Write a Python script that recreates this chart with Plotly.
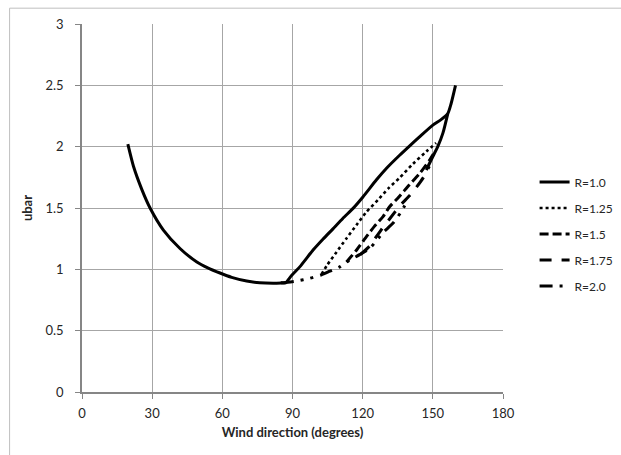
import plotly.graph_objects as go

# ---- data ----
x_ticks = [0, 30, 60, 90, 120, 150, 180]
y_ticks = [0, 0.5, 1, 1.5, 2, 2.5, 3]
y_tick_labels = ["0", "0.5", "1", "1.5", "2", "2.5", "3"]

series_names = ["R=1.0", "R=1.25", "R=1.5", "R=1.75", "R=2.0"]

# R=1.0: left branch, upper branch, then (after a break) the steep right branch
r10_x = [19.6, 22, 25.6, 29.1, 34.8, 41.9, 49.1, 54, 59, 64, 70.4, 76, 81.7, 85.3, 87,
         89.6, 93.1, 98.8, 103, 107.3, 111.5, 115.9, 120.1, 125.9, 130.5, 135.8, 140,
         144.3, 150, 153.5, 156.4, 157.8, 159.7,
         None,
         147.2, 150, 152.1, 154.3, 156.4]
r10_y = [2.02, 1.84, 1.65, 1.50, 1.32, 1.17, 1.06, 1.01, 0.97, 0.935, 0.905, 0.89, 0.886, 0.888, 0.89,
         0.95, 1.02, 1.157, 1.245, 1.33, 1.415, 1.497, 1.59, 1.73, 1.83, 1.93, 2.005,
         2.08, 2.176, 2.22, 2.27, 2.35, 2.50,
         None,
         1.81, 1.92, 2.00, 2.11, 2.27]

r125_x = [102.4, 105, 108.8, 113, 117.3, 121.5, 126.5, 131, 136, 141.5, 147.2, 151.4]
r125_y = [0.96, 1.04, 1.14, 1.25, 1.36, 1.465, 1.565, 1.66, 1.75, 1.86, 1.96, 2.03]

r15_x = [113.1, 117.5, 121.6, 125, 128.7, 131.5, 135, 140, 144.3, 148.6, 150.5]
r15_y = [1.06, 1.16, 1.266, 1.35, 1.43, 1.51, 1.58, 1.69, 1.78, 1.89, 1.95]

r175_x = [119, 123, 126, 129, 131.5, 136, 140, 143, 146, 148.5]
r175_y = [1.12, 1.19, 1.27, 1.35, 1.41, 1.52, 1.60, 1.67, 1.75, 1.84]

r20_x = [85, 88, 91.7, 97.4, 102.4, 106, 110.2, 113.1, 118.7, 123, 128.7, 132.9, 136.5, 138]
r20_y = [0.89, 0.895, 0.905, 0.927, 0.955, 0.985, 1.02, 1.06, 1.12, 1.17, 1.30, 1.375, 1.47, 1.52]

series_x = [r10_x, r125_x, r15_x, r175_x, r20_x]
series_y = [r10_y, r125_y, r15_y, r175_y, r20_y]
series_dash = ["solid", "dot", "9px,4px", "12px,10px", "13px,7px,3px,7px,3px,7px"]
series_width = [3, 2.6, 3, 3, 3]

FONT = "Lato, 'Liberation Sans', Arial, sans-serif"
TXT = "#262626"

fig = go.Figure()
for name, xs, ys, dash, w in zip(series_names, series_x, series_y, series_dash, series_width):
    fig.add_trace(go.Scatter(
        x=xs, y=ys, mode="lines", name=name, legendgroup=name,
        connectgaps=False,
        line=dict(color="black", width=w, dash=dash, shape="spline", smoothing=0.6),
    ))

axis_common = dict(
    showgrid=True, gridcolor="#a6a6a6", gridwidth=1,
    showline=True, linecolor="#868686", linewidth=1.5,
    ticks="outside", ticklen=5, tickcolor="#868686", tickwidth=1,
    zeroline=False, automargin=False,
    tickfont=dict(family=FONT, size=13, color=TXT),
)

fig.update_layout(
    width=621, height=455,
    margin=dict(l=82, r=118, t=24, b=63, autoexpand=False),
    paper_bgcolor="white", plot_bgcolor="white",
    font=dict(family=FONT, size=12, color=TXT),
    showlegend=True,
    legend=dict(
        x=1.075, y=0.61, xanchor="left", yanchor="top",
        font=dict(family=FONT, size=12, color=TXT),
        tracegroupgap=7, bgcolor="rgba(0,0,0,0)",
    ),
    xaxis=dict(
        range=[0, 180], tickvals=x_ticks, ticktext=[str(v) for v in x_ticks],
        ticklabelstandoff=4,
        title=dict(text="<b>Wind direction (degrees)</b>", standoff=8,
                   font=dict(family=FONT, size=13, color=TXT)),
        **axis_common,
    ),
    yaxis=dict(
        range=[0, 3], tickvals=y_ticks, ticktext=y_tick_labels,
        ticklabelstandoff=9,
        title=dict(text="<b>ubar</b>", standoff=10,
                   font=dict(family=FONT, size=13, color=TXT)),
        **axis_common,
    ),
)

# chart-area border (extends past the right and bottom edges of the picture)
fig.add_shape(type="rect", xref="paper", yref="paper",
              x0=-0.172, x1=1.5, y0=-0.3, y1=1.043,
              line=dict(color="#bfbfbf", width=1), fillcolor="rgba(0,0,0,0)", layer="below")

fig.write_html("out.html", config={"displayModeBar": False},
               post_script="document.body.style.margin='0';")
